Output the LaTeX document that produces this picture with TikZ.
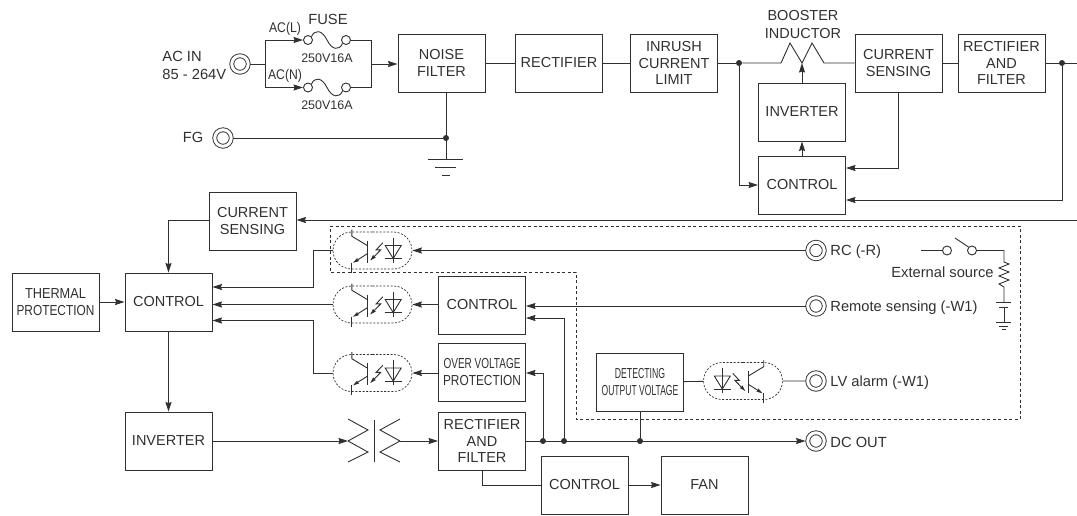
\documentclass[tikz,border=0pt]{standalone}
\usepackage{fontspec}
\setmainfont{Liberation Sans}
\usetikzlibrary{arrows.meta,shapes.misc}
\definecolor{inkc}{HTML}{303030}
\newcommand{\thinner}[2]{\scalebox{#1}[1]{#2}}
\tikzset{
    blk/.style={draw,minimum width=87pt,minimum height=58pt,inner sep=0pt,align=center,font=\fontsize{14.5}{16.6}\selectfont},
    lbl/.style={inner sep=0pt,align=left,font=\fontsize{14.7}{18}\selectfont},
    smalllbl/.style={inner sep=0pt,font=\fontsize{12.5}{14}\selectfont},
    term/.style={circle,draw,double,double distance=3pt,minimum size=16.5pt,inner sep=0pt,outer sep=2.2pt},
    tcirc/.style={circle,draw,fill=white,minimum size=9pt,inner sep=0pt},
    dot/.style={circle,fill,minimum size=6pt,inner sep=0pt},
    pill/.style={rounded rectangle,draw,dash pattern=on 2pt off 1.6pt,line width=.7pt,minimum width=79pt,minimum height=37pt,inner sep=0pt},
    arr/.style={-{Stealth[length=9.5pt,width=6pt,inset=1pt]}},
    optopic/.pic={
        \draw (-20.7,-21) -- (-20.7,-14.3) -- (-5.3,-5);
        \draw (-5.3,-10) -- (-5.3,12);
        \draw[-{Stealth[length=6pt,width=3.5pt,inset=.5pt]}] (-5.3,3.3) -- (-19.5,12.3);
        \draw (-20.7,12) -- (-20.7,22);
        \draw (12.7,-5) -- (28.7,-5) -- (20.7,8) -- cycle;
        \draw (12,8.3) -- (29.3,8.3);
        \draw (20.7,-13) -- (20.7,12);
        \draw[-{Stealth[length=6pt,width=3.5pt,inset=.5pt]}] (10.3,-7.7) -- (3.7,-.7) -- (8.3,-.7) -- (-2.3,10);
    }
}
\begin{document}
\begin{tikzpicture}[x=1pt,y=-1pt,line width=.9pt,color=inkc]
    \useasboundingbox (0,0) rectangle (1077,515);
    \draw[dash pattern=on 3pt off 2.5pt,line width=.8pt] (330,226) -- (1020,226) -- (1020,419) -- (576,419) -- (576,272) -- (330,272) -- cycle;

    \node[term] (acin) at (240,64) {};
    \node[lbl,anchor=west] at (162,56) {AC IN};
    \node[lbl,anchor=west] at (162,74.5) {85 - 264V};
    \node[term] (fg) at (223,138) {};
    \node[lbl] at (193,137.5) {FG};
    \node[lbl,font=\fontsize{14}{14}\selectfont] at (285,29) {\thinner{.87}{AC(L)}};
    \node[lbl,font=\fontsize{14}{14}\selectfont] at (285,76) {\thinner{.87}{AC(N)}};
    \node[lbl] at (328,19) {FUSE};
    \node[smalllbl] at (327,58) {250V16A};
    \node[smalllbl] at (327,105) {250V16A};
    \node[tcirc] (fla) at (308,40) {};
    \node[tcirc] (fra) at (346,40) {};
    \node[tcirc] (flb) at (308,87.5) {};
    \node[tcirc] (frb) at (346,87.5) {};
    \coordinate (bl) at (265,64);
    \coordinate (br) at (371,64);

    \node[blk] (nf) at (441.5,63) {NOISE\\FILTER};
    \node[blk] (rect) at (559,63) {RECTIFIER};
    \node[blk] (inr) at (674,63) {INRUSH\\CURRENT\\LIMIT};
    \node[blk] (csa) at (898.5,63) {CURRENT\\SENSING};
    \node[blk] (rfa) at (1001.5,63) {RECTIFIER\\AND\\FILTER};
    \node[blk] (inva) at (802,112) {INVERTER};
    \node[blk] (ctla) at (802,185) {CONTROL};
    \node[lbl,align=center,font=\fontsize{14.5}{18}\selectfont] at (803,25) {BOOSTER\\INDUCTOR};
    \node[dot] (ja) at (739,63) {};
    \node[dot] (jb) at (1062,63) {};
    \node[dot] (jfg) at (446,138) {};
    \coordinate (lka) at (781,63);
    \coordinate (lkb) at (802,63);
    \coordinate (lkc) at (824,63);
    \coordinate (gnd) at (446,159);
    \coordinate (rgt) at (1077,63);

    \draw (acin) -- (bl);
    \draw[arr] (bl) |- (fla);
    \draw[arr] (bl) |- (flb);
    \draw (fra) -| (br);
    \draw (frb) -| (br);
    \draw[arr] (br) -- (nf.west |- br);
    \draw (fla.north east) .. controls (315,29) and (322,30) .. (327,40) .. controls (332,50) and (339,51) .. (fra.south west);
    \draw (flb.north east) .. controls (315,76.5) and (322,77.5) .. (327,87.5) .. controls (332,97.5) and (339,98.5) .. (frb.south west);
    \draw (fg) -- (jfg);
    \draw (nf.south -| gnd) -- (gnd);
    \draw (428,159) -- (463,159);
    \draw (435,167) -- (456,167);
    \draw (442,175) -- (450,175);
    \draw (nf) -- (rect);
    \draw (rect) -- (inr);
    \draw (inr) -- (ja);
    \draw (ja) -- (lka) -- (790,43) -- (lkb) -- (812,43) -- (lkc) -- (csa);
    \draw (csa) -- (rfa);
    \draw (rfa) -- (rgt);
    \draw[arr] (inva.north) -- (lkb);
    \draw[arr] (ctla.north) -- (inva.south);
    \draw[arr] (ja) |- (ctla.west);
    \draw[arr] (csa.south) |- (ctla.east |- 0,168);
    \draw[arr] (jb) |- (ctla.east |- 0,200);

    \node[blk] (csb) at (252.5,221) {CURRENT\\SENSING};
    \node[blk] (ctlb) at (168.5,302) {CONTROL};
    \node[blk,font=\fontsize{14.5}{16.6}\selectfont] (thm) at (55.5,302) {\thinner{.88}{THERMAL}\\\thinner{.82}{PROTECTION}};
    \node[blk] (invb) at (168.5,441) {INVERTER};
    \node[blk] (ctlc) at (482,305) {CONTROL};
    \node[blk] (ovp) at (482,372) {\thinner{.69}{OVER VOLTAGE}\\\thinner{.82}{PROTECTION}};
    \node[blk] (rfb) at (482,441) {RECTIFIER\\AND\\FILTER};
    \node[blk] (det) at (640,382) {\thinner{.6}{DETECTING}\\\thinner{.59}{OUTPUT VOLTAGE}};
    \node[blk] (ctld) at (584.5,485) {CONTROL};
    \node[blk] (fan) at (704.5,485) {FAN};

    \node[pill] (opa) at (372.5,250.5) {};
    \node[pill] (opb) at (372.5,304.5) {};
    \node[pill] (opc) at (372.5,373) {};
    \node[pill] (opd) at (743,381) {};
    \pic at (opa) {optopic};
    \pic at (opb) {optopic};
    \pic at (opc) {optopic};
    \pic[xscale=-1] at (opd) {optopic};

    \node[term] (rc) at (816,250.5) {};
    \node[term] (rs) at (816,306) {};
    \node[term] (lv) at (816,381) {};
    \node[term] (dc) at (816,441) {};
    \node[lbl,anchor=west] at (830,251.5) {RC (-R)};
    \node[lbl,anchor=west] at (830,308) {Remote sensing (-W1)};
    \node[lbl,anchor=west] at (830,382.5) {LV alarm (-W1)};
    \node[lbl,anchor=west] at (830,442) {DC OUT};
    \node[dot] (jc) at (543,441) {};
    \node[dot] (jd) at (564,441) {};
    \node[dot] (je) at (640,441) {};

    \coordinate (rgtb) at (1077,220);
    \coordinate (oa) at (313,287);
    \coordinate (oc) at (313,320.5);
    \coordinate (ta) at (348,441);
    \coordinate (tb) at (400,441);

    \draw[arr] (rgtb) -- (csb.east |- rgtb);
    \draw[arr] (csb.west |- rgtb) -| (ctlb.north);
    \draw[arr] (thm) -- (ctlb);
    \draw[arr] (ctlb) -- (invb);
    \draw[arr] (opa.west) -| (oa) -- (ctlb.east |- oa);
    \draw[arr] (opb.west) -- (ctlb.east |- opb);
    \draw[arr] (opc.west) -| (oc) -- (ctlb.east |- oc);
    \draw[arr] (rc) -- (opa.east);
    \draw[arr] (ctlc.west |- opb) -- (opb.east);
    \draw[arr] (ovp.west |- opc) -- (opc.east);
    \draw[arr] (rs) -- (ctlc.east |- rs);
    \draw[arr] (jd) |- (ctlc.east |- 0,318);
    \draw[arr] (jc) |- (ovp.east |- opc);
    \draw[arr] (invb.east |- ta) -- (ta);
    \draw (ta) -- (368,430) -- (348,419);
    \draw (ta) -- (368,452) -- (348,462);
    \draw (374,420) -- (374,462);
    \draw (tb) -- (380,430) -- (400,419);
    \draw (tb) -- (380,452) -- (400,462);
    \draw[arr] (tb) -- (rfb.west |- tb);
    \draw[arr] (rfb.east |- dc) -- (dc);
    \draw (je) -- (det.south);
    \draw (det) -- (opd);
    \draw (opd) -- (lv);
    \draw (rfb.south) |- (ctld.west);
    \draw[arr] (ctld) -- (fan);

    \node[tcirc] (swa) at (947,250.5) {};
    \node[tcirc] (swb) at (972,250.5) {};
    \coordinate (ext) at (921,250.5);
    \coordinate (swarm) at (955,238);
    \coordinate (srca) at (1004,250.5);
    \coordinate (srcb) at (1004,262);
    \coordinate (srcc) at (1004,287);
    \coordinate (srcd) at (1004,302);
    \coordinate (srce) at (1004,307);
    \coordinate (srcf) at (1004,322);
    \node[lbl,anchor=east] at (994,272.5) {External source};
    \draw (ext) -- (swa);
    \draw (swarm) -- (swb.north west);
    \draw (swb) -- (srca) -- (srcb) -- (1009,264) -- (999,268) -- (1009,272) -- (999,276) -- (1009,280) -- (999,284) -- (srcc) -- (srcd);
    \draw (996,302) -- (1011,302);
    \draw (999,307) -- (1008,307);
    \draw (srce) -- (srcf);
    \draw (996,322) -- (1011,322);
    \draw (999,326) -- (1008,326);
    \draw (1002,329.5) -- (1006,329.5);
\end{tikzpicture}
\end{document}
